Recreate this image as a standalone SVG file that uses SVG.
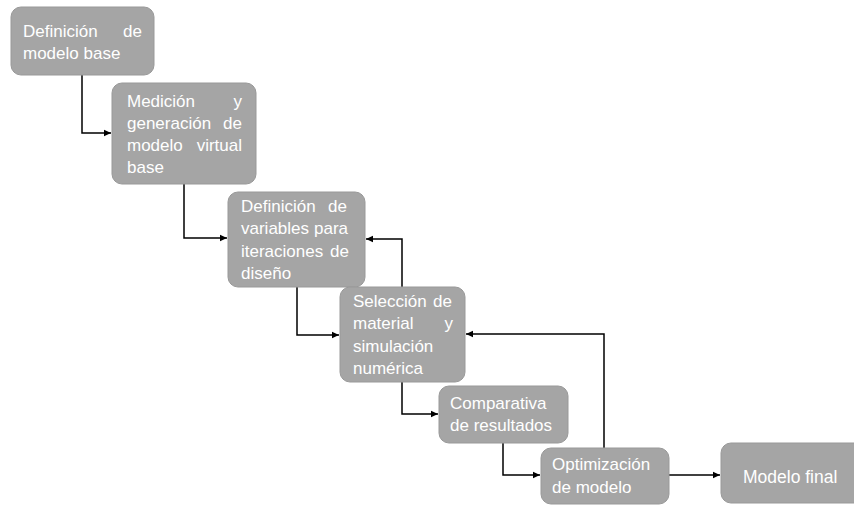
<svg xmlns="http://www.w3.org/2000/svg" width="854" height="505" viewBox="0 0 854 505">
  <style>
    .box { fill: #a5a5a5; stroke: #999999; stroke-width: 1; }
    .lbl { font-family: "Liberation Sans", Arial, sans-serif; font-size: 17px; fill: #ffffff; }
    .end { text-anchor: end; }
    .link { fill: none; stroke: #000000; stroke-width: 1.5; marker-end: url(#arrow); }
  </style>
  <defs>
    <marker id="arrow" markerWidth="8" markerHeight="8" refX="7" refY="4" orient="auto" markerUnits="userSpaceOnUse">
      <path d="M0,0.8 L7,4 L0,7.2 Z" fill="#000000"/>
    </marker>
  </defs>
  <rect width="854" height="505" fill="#ffffff"/>

  <g id="connectors">
    <path class="link" d="M82,75 V133 H111"/>
    <path class="link" d="M184,184 V238 H227"/>
    <path class="link" d="M297,287 V335 H339"/>
    <path class="link" d="M402,382 V414 H438"/>
    <path class="link" d="M503,443 V475 H540"/>
    <path class="link" d="M669,475 H720"/>
    <path class="link" d="M402,287 V239 H366"/>
    <path class="link" d="M604,448 V334 H466"/>
  </g>

  <g id="definicion-modelo-base">
    <rect class="box" x="11" y="7" width="143" height="68" rx="10"/>
    <text class="lbl" x="23" y="37">Definición</text>
    <text class="lbl end" x="142" y="37">de</text>
    <text class="lbl" x="23" y="59">modelo base</text>
  </g>

  <g id="medicion-modelo-virtual">
    <rect class="box" x="112" y="83" width="144" height="101" rx="10"/>
    <text class="lbl" x="127" y="107">Medición</text>
    <text class="lbl end" x="242" y="107">y</text>
    <text class="lbl" x="127" y="129">generación</text>
    <text class="lbl end" x="242" y="129">de</text>
    <text class="lbl" x="127" y="151">modelo</text>
    <text class="lbl end" x="242" y="151">virtual</text>
    <text class="lbl" x="127" y="173">base</text>
  </g>

  <g id="definicion-variables">
    <rect class="box" x="228" y="192" width="137" height="95" rx="10"/>
    <text class="lbl" x="241" y="212">Definición</text>
    <text class="lbl end" x="347" y="212">de</text>
    <text class="lbl" x="241" y="234">variables</text>
    <text class="lbl end" x="348" y="234">para</text>
    <text class="lbl" x="241" y="257">iteraciones</text>
    <text class="lbl end" x="349" y="257">de</text>
    <text class="lbl" x="241" y="279">diseño</text>
  </g>

  <g id="seleccion-material">
    <rect class="box" x="340" y="287" width="125" height="95" rx="10"/>
    <text class="lbl" x="353" y="307">Selección</text>
    <text class="lbl end" x="452" y="307">de</text>
    <text class="lbl" x="353" y="329">material</text>
    <text class="lbl end" x="453" y="329">y</text>
    <text class="lbl" x="353" y="352">simulación</text>
    <text class="lbl" x="353" y="374">numérica</text>
  </g>

  <g id="comparativa-resultados">
    <rect class="box" x="439" y="386" width="129" height="57" rx="10"/>
    <text class="lbl" x="450" y="409">Comparativa</text>
    <text class="lbl" x="450" y="431">de resultados</text>
  </g>

  <g id="optimizacion-modelo">
    <rect class="box" x="541" y="448" width="128" height="56" rx="10"/>
    <text class="lbl" x="552" y="470">Optimización</text>
    <text class="lbl" x="552" y="493">de modelo</text>
  </g>

  <g id="modelo-final">
    <rect class="box" x="721" y="443" width="150" height="60" rx="10"/>
    <text class="lbl" x="743" y="483" style="font-size:17.5px">Modelo final</text>
  </g>
</svg>
